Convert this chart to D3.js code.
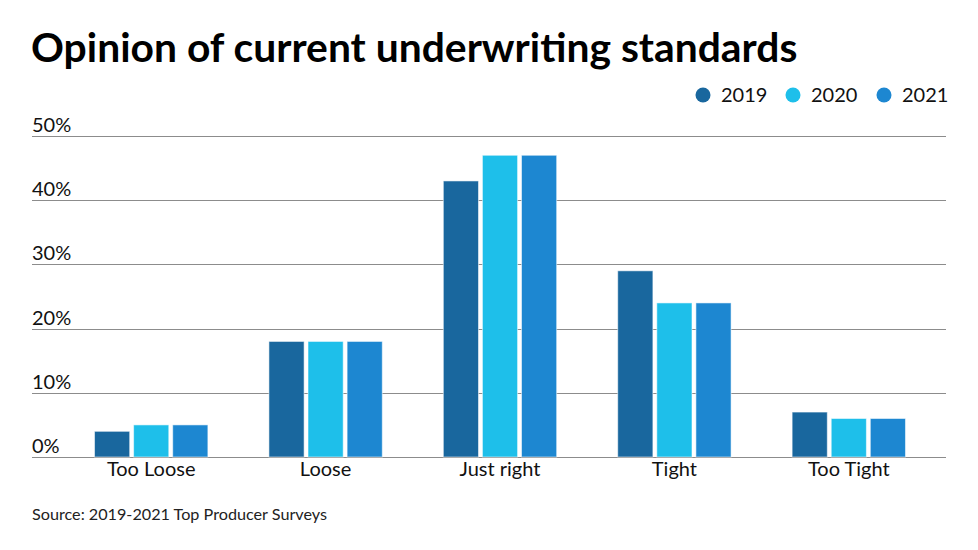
<!DOCTYPE html>
<html>
<head>
<meta charset="utf-8">
<script src="https://cdn.jsdelivr.net/npm/d3@7"></script>
<style>
  html, body { margin: 0; padding: 0; background: #fff; }
  svg { display: block; font-family: Lato, "Noto Sans", sans-serif; }
</style>
</head>
<body>
<div id="chart"></div>
<script>
// data
const categories = ["Too Loose", "Loose", "Just right", "Tight", "Too Tight"];
const years = ["2019", "2020", "2021"];
const values2019 = [4, 18, 43, 29, 7];
const values2020 = [5, 18, 47, 24, 6];
const values2021 = [5, 18, 47, 24, 6];
const yTicks = [0, 10, 20, 30, 40, 50];
const colors = ["#19679e", "#1ebfea", "#1d87d1"];

const width = 978, height = 550;
const series = [values2019, values2020, values2021];

const svg = d3.select("#chart").append("svg")
    .attr("width", width)
    .attr("height", height);

// title
svg.append("text")
    .attr("x", 31)
    .attr("y", 62)
    .attr("font-size", 40.8)
    .attr("font-weight", 700)
    .attr("fill", "#000")
    .text("Opinion of current underwriting standards");

// scales
const y = d3.scaleLinear().domain([0, 50]).range([457, 136]);
const x0 = d3.scaleBand().domain(categories)
    .range([64, 936])
    .paddingInner(0.35)
    .paddingOuter(0.175);
const x1 = d3.scaleBand().domain(years)
    .range([0, x0.bandwidth()])
    .paddingInner(0.1);

// gridlines + y labels
const grid = svg.append("g");
grid.selectAll("line")
    .data(yTicks)
    .enter().append("line")
    .attr("x1", 32).attr("x2", 946)
    .attr("y1", d => Math.round(y(d)) + 0.5)
    .attr("y2", d => Math.round(y(d)) + 0.5)
    .attr("stroke", "#8c8c8c")
    .attr("stroke-width", 1);

grid.selectAll("text")
    .data(yTicks)
    .enter().append("text")
    .attr("x", 32)
    .attr("y", d => y(d) - 4)
    .attr("font-size", 20)
    .attr("fill", "#111")
    .text(d => d + "%");

// bars
const groups = svg.append("g")
    .selectAll("g")
    .data(categories)
    .enter().append("g")
    .attr("transform", d => `translate(${x0(d)},0)`);

groups.selectAll("rect")
    .data((d, i) => years.map((yr, j) => ({ year: yr, value: series[j][i], k: j })))
    .enter().append("rect")
    .attr("x", d => x1(d.year))
    .attr("y", d => y(d.value))
    .attr("width", x1.bandwidth())
    .attr("height", d => y(0) - y(d.value))
    .attr("fill", d => colors[d.k])
    .attr("stroke", "rgba(255,255,255,0.55)")
    .attr("stroke-width", 1);

// category labels
svg.append("g")
    .selectAll("text")
    .data(categories)
    .enter().append("text")
    .attr("x", d => x0(d) + x0.bandwidth() / 2)
    .attr("y", 476)
    .attr("text-anchor", "middle")
    .attr("font-size", 20)
    .attr("fill", "#111")
    .text(d => d);

// legend
const legendX = [703, 793, 884];
const legend = svg.append("g")
    .selectAll("g")
    .data(years)
    .enter().append("g")
    .attr("transform", (d, i) => `translate(${legendX[i]},95)`);

legend.append("circle")
    .attr("r", 7.5)
    .attr("fill", (d, i) => colors[i]);

legend.append("text")
    .attr("x", 18)
    .attr("y", 7)
    .attr("font-size", 20)
    .attr("fill", "#111")
    .text(d => d);

// source
svg.append("text")
    .attr("x", 32)
    .attr("y", 520)
    .attr("font-size", 16.2)
    .attr("fill", "#222")
    .text("Source: 2019-2021 Top Producer Surveys");
</script>
</body>
</html>
